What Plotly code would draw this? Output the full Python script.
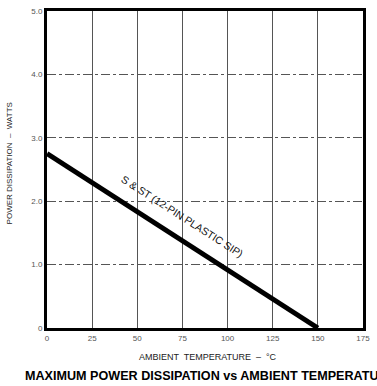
import plotly.graph_objects as go

# Data
temp_c = [0, 150]
power_w = [2.75, 0]
x_ticks = [0, 25, 50, 75, 100, 125, 150, 175]
y_ticks = [0, 1, 2, 3, 4, 5]
y_tick_labels = ["0", "1.0", "2.0", "3.0", "4.0", "5.0"]
curve_label = "S & ST (12-PIN PLASTIC SIP)"

fig = go.Figure()
fig.add_trace(go.Scatter(x=temp_c, y=power_w, mode="lines",
                         line=dict(color="black", width=5), showlegend=False,
                         hoverinfo="skip"))

fig.add_annotation(x=74.6, y=1.76, xref="x", yref="y", text=curve_label,
                   showarrow=False, textangle=32.6,
                   font=dict(family="Liberation Sans", size=10.5, color="#111"))

fig.add_annotation(x=-0.14, y=0.52, xref="paper", yref="paper",
                   text="POWER DISSIPATION  –  WATTS", textangle=-90,
                   showarrow=False,
                   font=dict(family="Liberation Sans", size=8, color="#222"))
fig.add_annotation(x=0.508, y=-0.07, xref="paper", yref="paper",
                   text="AMBIENT  TEMPERATURE  –  °C", showarrow=False,
                   xanchor="center", yanchor="top",
                   font=dict(family="Liberation Sans", size=9, color="#222"))
fig.add_annotation(x=-0.075, y=-0.1526, xref="paper", yref="paper",
                   text="<b>MAXIMUM POWER DISSIPATION vs AMBIENT TEMPERATURE</b>",
                   showarrow=False, xanchor="left", yanchor="middle",
                   font=dict(family="Liberation Sans", size=12.6, color="black"))

fig.update_xaxes(range=[0, 175], tickvals=x_ticks, showgrid=True,
                 gridcolor="#555", gridwidth=1, griddash="solid",
                 showline=True, linecolor="black", linewidth=3, mirror=True,
                 zeroline=False, ticks="",
                 tickfont=dict(family="Liberation Sans", size=8, color="#555"))
fig.update_yaxes(range=[0, 5], tickvals=y_ticks, ticktext=y_tick_labels,
                 showgrid=True, gridcolor="#555", gridwidth=1, griddash="dashdot",
                 showline=True, linecolor="black", linewidth=3, mirror=True,
                 zeroline=False, ticks="",
                 tickfont=dict(family="Liberation Sans", size=8, color="#555"))

fig.update_layout(width=377, height=386, margin=dict(l=47, r=9, t=7, b=58),
                  plot_bgcolor="white", paper_bgcolor="white")
fig.write_html("out.html")
